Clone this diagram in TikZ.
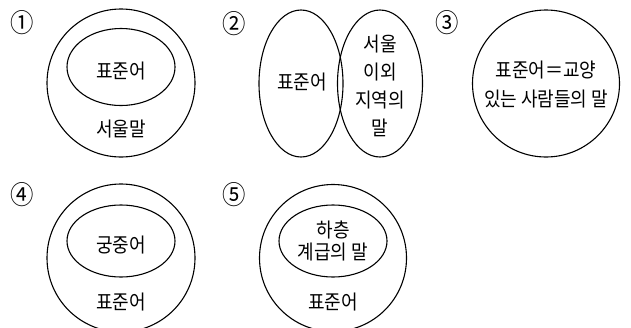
\documentclass[tikz,border=0pt]{standalone}
\usepackage{fontspec}
\newfontfamily\kr{Noto Sans CJK KR}[FakeStretch=0.9]

\begin{document}
\begin{tikzpicture}[x=1pt, y=-1pt, line width=1.1pt,
  lbl/.style={font=\kr\fontsize{20}{28}\selectfont, align=center, inner sep=0pt},
  num/.style={font=\kr\fontsize{26}{26}\selectfont, inner sep=0pt}]
\useasboundingbox (0,0) rectangle (631,327);
\clip (0,0) rectangle (631,327);
% (1)
\node[num] (n1) at (22,23) {①};
\draw (121,83) circle (74pt);
\draw (121,67) ellipse [x radius=54pt, y radius=38.5pt];
\node[lbl] (std1) at (121,71) {표준어};
\node[lbl] (seoul1) at (121,129) {서울말};
% (2)
\node[num] (n2) at (234,24) {②};
\draw (301,83.5) ellipse [x radius=42pt, y radius=73.5pt];
\draw (380,83.5) ellipse [x radius=42.5pt, y radius=73.5pt];
\node[lbl] (std2) at (302,82) {표준어};
\node[lbl] (local2) at (380,85.5) {서울\\이외\\지역의\\말};
% (3)
\node[num] (n3) at (447,23) {③};
\draw (546,83.5) circle (73.5pt);
\node[lbl, font=\kr\fontsize{20}{29}\selectfont] (std3) at (546,84.5) {표준어＝교양\\있는 사람들의 말};
% (4)
\node[num] (n4) at (22,195) {④};
\draw (121,258) circle (74pt);
\draw (121,241) ellipse [x radius=54pt, y radius=36pt];
\node[lbl] (court4) at (121,245) {궁중어};
\node[lbl] (std4) at (121,302) {표준어};
% (5)
\node[num] (n5) at (234,195) {⑤};
\draw (333,258) circle (73.5pt);
\draw (333,241) ellipse [x radius=54pt, y radius=36pt];
\node[lbl, font=\kr\fontsize{20}{22}\selectfont] (low5) at (333,241) {하층\\계급의 말};
\node[lbl] (std5) at (333,302) {표준어};
\end{tikzpicture}
\end{document}
